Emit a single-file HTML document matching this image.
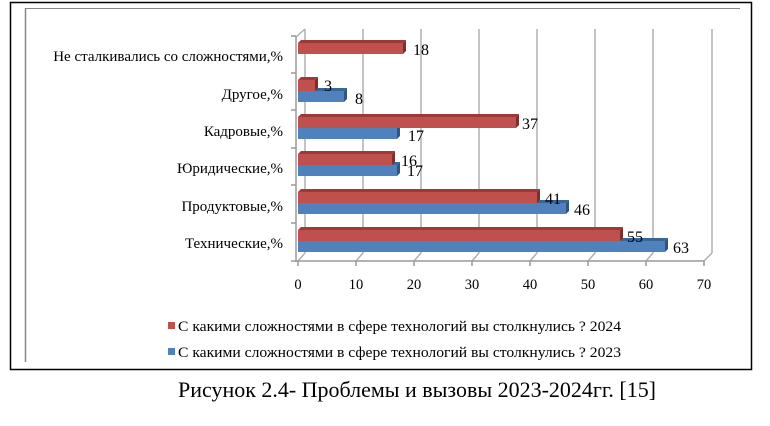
<!DOCTYPE html>
<html><head><meta charset="utf-8"><style>
body{margin:0;background:#fff;}
svg{display:block;font-family:"Liberation Serif",serif;}
</style></head><body>
<svg width="770" height="426" viewBox="0 0 770 426" xmlns="http://www.w3.org/2000/svg">
<rect x="10.5" y="2.5" width="741" height="367" fill="none" stroke="#000" stroke-width="1.5"/>
<line x1="25" y1="8.5" x2="740" y2="8.5" stroke="#888" stroke-width="1"/>
<line x1="25.5" y1="8" x2="25.5" y2="362" stroke="#888" stroke-width="1.5"/>
<g stroke="#b0b0b0" stroke-width="1.5" fill="none">
<line x1="305" y1="29" x2="305" y2="253"/>
<line x1="363" y1="29" x2="363" y2="253"/>
<line x1="421" y1="29" x2="421" y2="253"/>
<line x1="479" y1="29" x2="479" y2="253"/>
<line x1="537" y1="29" x2="537" y2="253"/>
<line x1="595" y1="29" x2="595" y2="253"/>
<line x1="653" y1="29" x2="653" y2="253"/>
<line x1="712" y1="29" x2="712" y2="253"/>
<line x1="298" y1="261" x2="305" y2="253"/>
<line x1="356" y1="261" x2="363" y2="253"/>
<line x1="414" y1="261" x2="421" y2="253"/>
<line x1="472" y1="261" x2="479" y2="253"/>
<line x1="530" y1="261" x2="537" y2="253"/>
<line x1="588" y1="261" x2="595" y2="253"/>
<line x1="646" y1="261" x2="653" y2="253"/>
<line x1="704" y1="261" x2="712" y2="253"/>
<line x1="296" y1="37" x2="305" y2="29"/>
</g>
<g stroke="#999" stroke-width="1.5">
<line x1="296" y1="36" x2="296" y2="262"/>
<line x1="296" y1="261" x2="704" y2="261"/>
<line x1="291" y1="36" x2="296" y2="36"/><line x1="291" y1="73" x2="296" y2="73"/>
<line x1="291" y1="110" x2="296" y2="110"/><line x1="291" y1="148" x2="296" y2="148"/>
<line x1="291" y1="185" x2="296" y2="185"/><line x1="291" y1="223" x2="296" y2="223"/>
<line x1="291" y1="261" x2="296" y2="261"/>
<line x1="298" y1="261" x2="298" y2="266"/><line x1="356" y1="261" x2="356" y2="266"/>
<line x1="414" y1="261" x2="414" y2="266"/><line x1="472" y1="261" x2="472" y2="266"/>
<line x1="530" y1="261" x2="530" y2="266"/><line x1="588" y1="261" x2="588" y2="266"/>
<line x1="646" y1="261" x2="646" y2="266"/><line x1="704" y1="261" x2="704" y2="266"/>
</g>
<g font-size="14.5" fill="#000" text-anchor="middle">
<text x="298" y="289">0</text><text x="356" y="289">10</text><text x="414" y="289">20</text>
<text x="472" y="289">30</text><text x="530" y="289">40</text><text x="588" y="289">50</text>
<text x="646" y="289">60</text><text x="704" y="289">70</text>
</g>
<g font-size="15" fill="#000" text-anchor="end">
<text x="283" y="61">Не сталкивались со сложностями,%</text>
<text x="283" y="99">Другое,%</text>
<text x="283" y="136">Кадровые,%</text>
<text x="283" y="173">Юридические,%</text>
<text x="283" y="211">Продуктовые,%</text>
<text x="283" y="248">Технические,%</text>
</g>
<g>
<polygon points="298,91 301,88 347,88 344,91" fill="#3a6597"/><polygon points="344,91 347,88 347,99 344,102" fill="#2f5584"/><rect x="298" y="91" width="46" height="11" fill="#4f81bd"/>
<polygon points="298,128 301,125 400,125 397,128" fill="#3a6597"/><polygon points="397,128 400,125 400,136 397,139" fill="#2f5584"/><rect x="298" y="128" width="99" height="11" fill="#4f81bd"/>
<polygon points="298,165 301,162 400,162 397,165" fill="#3a6597"/><polygon points="397,165 400,162 400,173 397,176" fill="#2f5584"/><rect x="298" y="165" width="99" height="11" fill="#4f81bd"/>
<polygon points="298,203 301,200 569,200 566,203" fill="#3a6597"/><polygon points="566,203 569,200 569,211 566,214" fill="#2f5584"/><rect x="298" y="203" width="268" height="11" fill="#4f81bd"/>
<polygon points="298,241 301,238 668,238 665,241" fill="#3a6597"/><polygon points="665,241 668,238 668,249 665,252" fill="#2f5584"/><rect x="298" y="241" width="367" height="11" fill="#4f81bd"/>
</g>
<g>
<polygon points="298,43 301,40 406,40 403,43" fill="#9c3a37"/><polygon points="403,43 406,40 406,51 403,54" fill="#7f2e2c"/><rect x="298" y="43" width="105" height="11" fill="#c0504d"/>
<polygon points="298,80 301,77 318,77 315,80" fill="#9c3a37"/><polygon points="315,80 318,77 318,88 315,91" fill="#7f2e2c"/><rect x="298" y="80" width="17" height="11" fill="#c0504d"/>
<polygon points="298,117 301,114 519,114 516,117" fill="#9c3a37"/><polygon points="516,117 519,114 519,125 516,128" fill="#7f2e2c"/><rect x="298" y="117" width="218" height="11" fill="#c0504d"/>
<polygon points="298,154 301,151 395,151 392,154" fill="#9c3a37"/><polygon points="392,154 395,151 395,162 392,165" fill="#7f2e2c"/><rect x="298" y="154" width="94" height="11" fill="#c0504d"/>
<polygon points="298,192 301,189 540,189 537,192" fill="#9c3a37"/><polygon points="537,192 540,189 540,200 537,203" fill="#7f2e2c"/><rect x="298" y="192" width="239" height="11" fill="#c0504d"/>
<polygon points="298,230 301,227 623,227 620,230" fill="#9c3a37"/><polygon points="620,230 623,227 623,238 620,241" fill="#7f2e2c"/><rect x="298" y="230" width="322" height="11" fill="#c0504d"/>
</g>
<g font-size="16" fill="#000">
<text x="413" y="55">18</text>
<text x="324" y="91">3</text><text x="355" y="104">8</text>
<text x="522" y="129">37</text><text x="408" y="141">17</text>
<text x="401" y="166">16</text><text x="407" y="176">17</text>
<text x="545" y="204">41</text><text x="574" y="215">46</text>
<text x="627" y="242">55</text><text x="673" y="253">63</text>
</g>
<rect x="168" y="322" width="7" height="7" fill="#c0504d"/>
<rect x="168" y="348" width="7" height="7" fill="#4f81bd"/>
<g font-size="15" fill="#000">
<text x="178" y="331" textLength="443" lengthAdjust="spacingAndGlyphs">С какими сложностями в сфере технологий вы столкнулись ? 2024</text>
<text x="178" y="357" textLength="443" lengthAdjust="spacingAndGlyphs">С какими сложностями в сфере технологий вы столкнулись ? 2023</text>
</g>
<text x="178" y="397" font-size="22" fill="#000" textLength="478" lengthAdjust="spacingAndGlyphs">Рисунок 2.4- Проблемы и вызовы 2023-2024гг. [15]</text>
</svg>
</body></html>
